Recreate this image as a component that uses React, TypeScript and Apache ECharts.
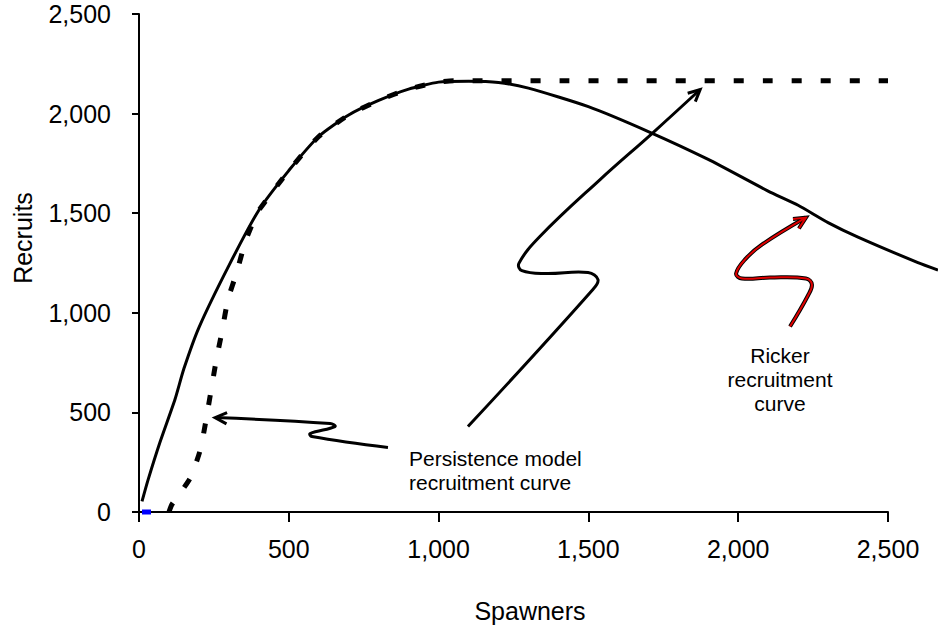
import React, { useEffect, useRef } from "react";
import * as echarts from "echarts";

// Ricker recruitment curve (spawners, recruits)
const rickerSpawners = [10, 30, 70, 120, 150, 200, 300, 400, 500, 600, 700, 800, 900, 1000, 1100, 1200, 1300, 1500, 1700, 1900, 2100, 2200, 2300, 2400, 2600, 2667];
const rickerRecruits = [53, 160, 350, 565, 720, 926, 1237, 1515, 1714, 1885, 1993, 2066, 2123, 2158, 2162, 2156, 2128, 2035, 1910, 1770, 1611, 1540, 1453, 1380, 1252, 1215];

// Persistence model recruitment curve
const persistSpawners = [100, 110, 170, 204, 224, 257, 277, 297, 327, 354, 391, 400, 500, 600, 700, 800, 900, 1000, 1050, 2500];
const persistRecruits = [0, 38, 168, 309, 464, 755, 906, 1067, 1207, 1353, 1493, 1515, 1714, 1885, 1993, 2066, 2123, 2158, 2165, 2165];

// small blue segment at origin
const blueSpawners = [10, 40];
const blueRecruits = [0, 0];

const xTicks = [0, 500, 1000, 1500, 2000, 2500];
const yTicks = [0, 500, 1000, 1500, 2000, 2500];
// the Ricker curve runs on past the last tick, to the right edge of the picture
const xOverflowMax = 2667;

// Annotation arrows (data units, tail -> tip)
const arrowLow = [[831, 324], [577, 379], [571, 394], [654, 429], [638, 444], [254, 474]];
const arrowHigh = [[1098, 429], [1515, 1117], [1532, 1167], [1499, 1202], [1355, 1197], [1278, 1212], [1268, 1248], [1338, 1383], [1539, 1669], [1716, 1905], [1873, 2121]];
const arrowRicker = [[2173, 931], [2233, 1087], [2246, 1142], [2226, 1172], [2106, 1177], [2013, 1172], [1993, 1197], [2023, 1268], [2080, 1343], [2226, 1478]];

const FONT = '"Liberation Sans", Arial, sans-serif';
const fmt = (v: number) => v.toLocaleString("en-US");

export default function App() {
  const ref = useRef<HTMLDivElement>(null);
  useEffect(() => {
    if (!ref.current) return;
    const chart = echarts.init(ref.current, null, { renderer: "svg" });
    const zip = (a: number[], b: number[]) => a.map((v, i) => [v, b[i]]);
    const xMax = xTicks[xTicks.length - 1];
    const plotLeft = 139;
    const plotRight = 50;
    const plotWidth = 938 - plotLeft - plotRight;
    // second grid sized so that its scale equals the first one's
    const wideRight = 938 - plotLeft - Math.round((plotWidth * xOverflowMax) / xMax);
    chart.setOption({
      animation: false,
      backgroundColor: "#ffffff",
      grid: [
        { left: plotLeft, right: plotRight, top: 14, bottom: 114 },
        { left: plotLeft, right: Math.max(0, wideRight), top: 14, bottom: 114 },
      ],
      xAxis: [
        {
          type: "value",
          gridIndex: 0,
          min: xTicks[0],
          max: xMax,
          interval: 500,
          axisLine: { lineStyle: { color: "#000", width: 2 } },
          axisTick: { show: true, length: 10, lineStyle: { color: "#000", width: 2 } },
          splitLine: { show: false },
          axisLabel: { formatter: fmt, color: "#000", fontSize: 25, fontFamily: FONT, margin: 24 },
        },
        {
          type: "value",
          gridIndex: 1,
          min: 0,
          max: xOverflowMax,
          show: false,
          splitLine: { show: false },
        },
      ],
      yAxis: [
        {
          type: "value",
          gridIndex: 0,
          min: yTicks[0],
          max: yTicks[yTicks.length - 1],
          interval: 500,
          axisLine: { show: true, lineStyle: { color: "#000", width: 2 } },
          axisTick: { show: true, length: 7, lineStyle: { color: "#000", width: 2 } },
          splitLine: { show: false },
          axisLabel: { formatter: fmt, color: "#000", fontSize: 25, fontFamily: FONT, margin: 28 },
        },
        {
          type: "value",
          gridIndex: 1,
          min: yTicks[0],
          max: yTicks[yTicks.length - 1],
          show: false,
          splitLine: { show: false },
        },
      ],
      series: [
        {
          type: "line",
          xAxisIndex: 1,
          yAxisIndex: 1,
          data: zip(rickerSpawners, rickerRecruits),
          showSymbol: false,
          smooth: 0.2,
          lineStyle: { color: "#000", width: 3 },
          z: 2,
        },
        {
          type: "line",
          data: zip(persistSpawners, persistRecruits),
          showSymbol: false,
          smooth: 0.2,
          lineStyle: { color: "#000", width: 5, type: [10, 19], cap: "butt" },
          z: 3,
        },
        {
          type: "line",
          data: zip(blueSpawners, blueRecruits),
          showSymbol: false,
          clip: false,
          lineStyle: { color: "#0000ff", width: 5, cap: "butt" },
          z: 4,
        },
      ],
    });

    const toPx = (p: number[]) => chart.convertToPixel({ gridIndex: 0 }, p) as number[];
    const head = (pts: number[][], len: number) => {
      const tip = pts[pts.length - 1];
      const prev = pts[pts.length - 2];
      const ang = Math.atan2(tip[1] - prev[1], tip[0] - prev[0]);
      const a = 0.45;
      return [
        [tip[0] - len * Math.cos(ang - a), tip[1] - len * Math.sin(ang - a)],
        tip,
        [tip[0] - len * Math.cos(ang + a), tip[1] - len * Math.sin(ang + a)],
      ];
    };
    const arrow = (data: number[][], color: string, width: number) => {
      const pts = data.map(toPx);
      return [
        { type: "polyline", shape: { points: pts, smooth: 0.4 }, style: { stroke: color, lineWidth: width, fill: null }, z: 10 },
        { type: "polyline", shape: { points: head(pts, 13) }, style: { stroke: color, lineWidth: width, fill: null, lineJoin: "miter" }, z: 10 },
      ];
    };
    const redArrow = (data: number[][]) => {
      const pts = data.map(toPx);
      const h = head(pts, 13);
      return [
        { type: "polyline", shape: { points: pts, smooth: 0.4 }, style: { stroke: "#000", lineWidth: 4, fill: null }, z: 10 },
        { type: "polyline", shape: { points: h }, style: { stroke: "#000", lineWidth: 4, fill: null }, z: 10 },
        { type: "polyline", shape: { points: pts, smooth: 0.4 }, style: { stroke: "#e00000", lineWidth: 2, fill: null }, z: 11 },
        { type: "polyline", shape: { points: h }, style: { stroke: "#e00000", lineWidth: 2, fill: null }, z: 11 },
      ];
    };

    chart.setOption({
      graphic: [
        ...arrow(arrowLow, "#000", 3),
        ...arrow(arrowHigh, "#000", 3),
        ...redArrow(arrowRicker),
        {
          type: "text", x: 409, y: 470, z: 12,
          style: { text: "Persistence model\nrecruitment curve", font: `21px ${FONT}`, fill: "#000", textAlign: "left", textVerticalAlign: "middle", lineHeight: 24 },
        },
        {
          type: "text", x: 780, y: 379, z: 12,
          style: { text: "Ricker\nrecruitment\ncurve", font: `21px ${FONT}`, fill: "#000", textAlign: "center", textVerticalAlign: "middle", lineHeight: 24 },
        },
        {
          type: "text", x: 530, y: 611, z: 12,
          style: { text: "Spawners", font: `25px ${FONT}`, fill: "#000", textAlign: "center", textVerticalAlign: "middle" },
        },
        {
          type: "text", x: 23, y: 238, rotation: Math.PI / 2, z: 12,
          style: { text: "Recruits", font: `25px ${FONT}`, fill: "#000", textAlign: "center", textVerticalAlign: "middle" },
        },
      ],
    });

    return () => chart.dispose();
  }, []);
  return <div ref={ref} style={{ position: "absolute", left: 0, top: 0, width: 938, height: 626 }} />;
}
